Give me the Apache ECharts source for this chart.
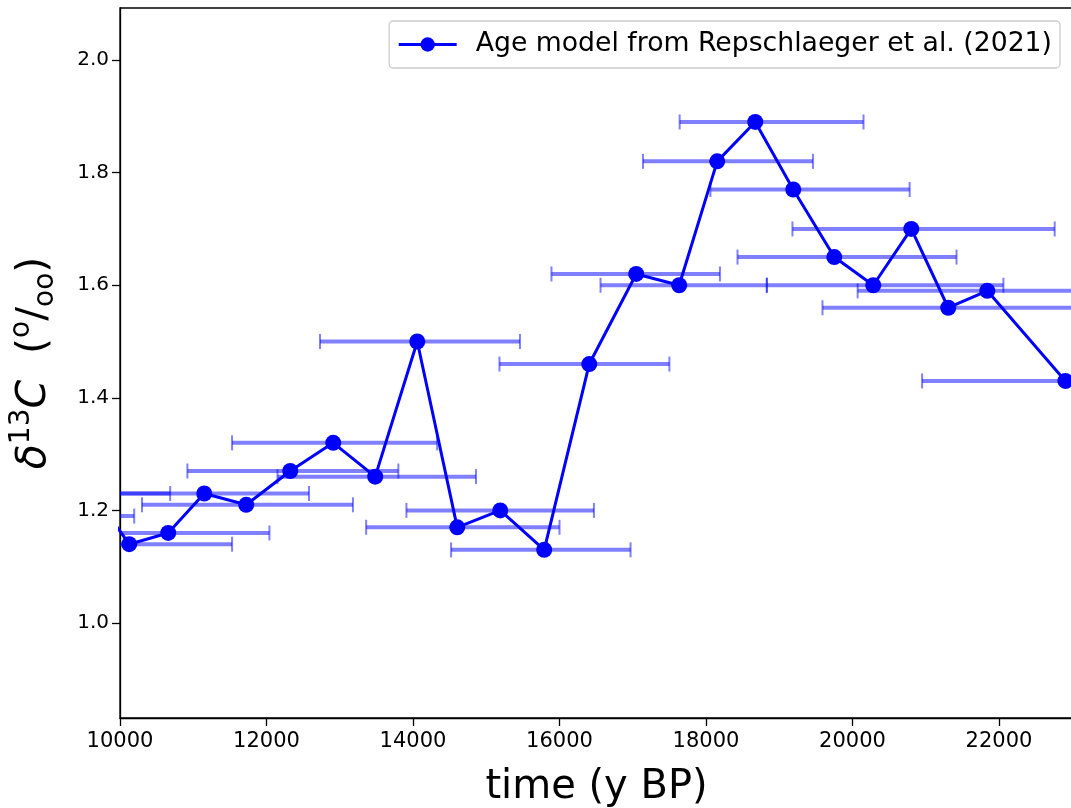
<!DOCTYPE html>
<html>
<head>
<meta charset="utf-8">
<title>d13C age model</title>
<script src="https://cdn.jsdelivr.net/npm/echarts@6/dist/echarts.min.js"></script>
<style>
	html, body { margin: 0; padding: 0; background: #fff; }
	#chart { width: 1071px; height: 808px; }
</style>
</head>
<body>
<div id="chart"></div>
<script>
// age (y BP) and d13C of each sample
const ageYears = [9100, 9634, 10126, 10658, 11150, 11723, 12324, 12911, 13484, 14058, 14604, 15191, 15791,
	16406, 17047, 17634, 18153, 18672, 19191, 19751, 20283, 20802, 21307, 21840, 22906];
const d13C = [1.19, 1.23, 1.14, 1.16, 1.23, 1.21, 1.27, 1.32, 1.26, 1.50, 1.17, 1.20, 1.13,
	1.46, 1.62, 1.60, 1.82, 1.89, 1.77, 1.65, 1.60, 1.70, 1.56, 1.59, 1.43];
// age uncertainty: left and right end of each error bar
const ageLow = [7900, 8300, 8720, 9280, 9720, 10300, 10920, 11530, 12150, 12730, 13360, 13910, 14520,
	15180, 15890, 16560, 17140, 17640, 18060, 18430, 18830, 19180, 19590, 20070, 20950];
const ageHigh = [10194, 10685, 11530, 12040, 12580, 13180, 13800, 14330, 14860, 15460, 16000, 16470, 16970,
	17500, 18190, 18830, 19460, 20150, 20780, 21420, 22060, 22760, 23040, 23620, 24880];

const xTicks = [10000, 12000, 14000, 16000, 18000, 20000, 22000];
const yTicks = [1.0, 1.2, 1.4, 1.6, 1.8, 2.0];

const seriesName = 'Age model from Repschlaeger et al. (2021)';
const FONT = 'DejaVu Sans';

const chart = echarts.init(document.getElementById('chart'));

const lineData = ageYears.map((a, i) => [a, d13C[i]]);
const barData = ageYears.map((a, i) => [ageLow[i], ageHigh[i], d13C[i]]);

// horizontal error bar with caps, drawn through the axes
const renderErrorBar = (params, api) => {
	const y = api.value(2);
	const p1 = api.coord([api.value(0), y]);
	const p2 = api.coord([api.value(1), y]);
	const cap = 7.5;
	const col = 'rgba(0,0,255,0.5)';
	return {
		type: 'group',
		children: [
			{ type: 'line', shape: { x1: p1[0], y1: p1[1], x2: p2[0], y2: p2[1] }, style: { stroke: col, lineWidth: 4 } },
			{ type: 'line', shape: { x1: p1[0], y1: p1[1] - cap, x2: p1[0], y2: p1[1] + cap }, style: { stroke: col, lineWidth: 2 } },
			{ type: 'line', shape: { x1: p2[0], y1: p2[1] - cap, x2: p2[0], y2: p2[1] + cap }, style: { stroke: col, lineWidth: 2 } }
		]
	};
};

chart.setOption({
	animation: false,
	textStyle: { fontFamily: FONT },
	grid: {
		left: 120, right: -2, top: 8, bottom: 90,
		outerBoundsMode: 'none',
		show: true, borderColor: '#000', borderWidth: 1.3, backgroundColor: 'transparent'
	},
	legend: {
		data: [seriesName],
		right: 11, top: 21,
		orient: 'horizontal',
		itemWidth: 58, itemHeight: 18,
		padding: [10, 8, 10, 8],
		borderColor: '#cccccc', borderWidth: 1.3, borderRadius: 4,
		backgroundColor: 'rgba(255,255,255,0.8)',
		lineStyle: { width: 3 },
		textStyle: { fontSize: 26.7, color: '#000', fontFamily: FONT, padding: [0, 0, 0, 14] }
	},
	xAxis: {
		type: 'value',
		min: 10000, max: 23010,
		name: 'time (y BP)',
		nameLocation: 'middle',
		nameGap: 50,
		nameTextStyle: { fontSize: 40, color: '#000', fontFamily: FONT },
		axisLine: { lineStyle: { color: '#000', width: 1.3 } },
		axisTick: { length: 8, lineStyle: { color: '#000', width: 1.3 }, customValues: xTicks },
		axisLabel: { fontSize: 21, color: '#000', margin: 13, customValues: xTicks, formatter: v => String(v) },
		splitLine: { show: false }
	},
	yAxis: {
		type: 'value',
		min: 0.8313, max: 2.0924,
		name: '{it|δ}{sup|13}{it|C}{sp| }{n|(}{sup|o}{n|/}{sub|oo}{n|)}',
		nameLocation: 'middle',
		nameGap: 60,
		nameTextStyle: {
			color: '#000',
			rich: {
				it: { fontSize: 41, fontStyle: 'italic', fontFamily: FONT, lineHeight: 52, verticalAlign: 'middle', color: '#000' },
				n: { fontSize: 41, fontFamily: FONT, lineHeight: 52, verticalAlign: 'middle', color: '#000' },
				sp: { fontSize: 41, width: 26, lineHeight: 52 },
				sup: { fontSize: 28, fontFamily: FONT, lineHeight: 27, verticalAlign: 'top', color: '#000' },
				sub: { fontSize: 28, fontFamily: FONT, lineHeight: 27, verticalAlign: 'bottom', color: '#000' }
			}
		},
		axisLine: { lineStyle: { color: '#000', width: 1.3 } },
		axisTick: { length: 8, lineStyle: { color: '#000', width: 1.3 }, customValues: yTicks },
		axisLabel: { fontSize: 20, color: '#000', margin: 11, customValues: yTicks, formatter: v => v.toFixed(1) },
		splitLine: { show: false }
	},
	series: [
		{
			name: 'age error',
			type: 'custom',
			clip: true,
			renderItem: renderErrorBar,
			encode: { x: [0, 1], y: 2 },
			data: barData,
			z: 1
		},
		{
			name: seriesName,
			type: 'line',
			data: lineData,
			symbol: 'circle',
			symbolSize: 16,
			showAllSymbol: true,
			clip: true,
			itemStyle: { color: '#0000ff' },
			lineStyle: { color: '#0000ff', width: 3 },
			z: 3
		}
	]
});
</script>
</body>
</html>
